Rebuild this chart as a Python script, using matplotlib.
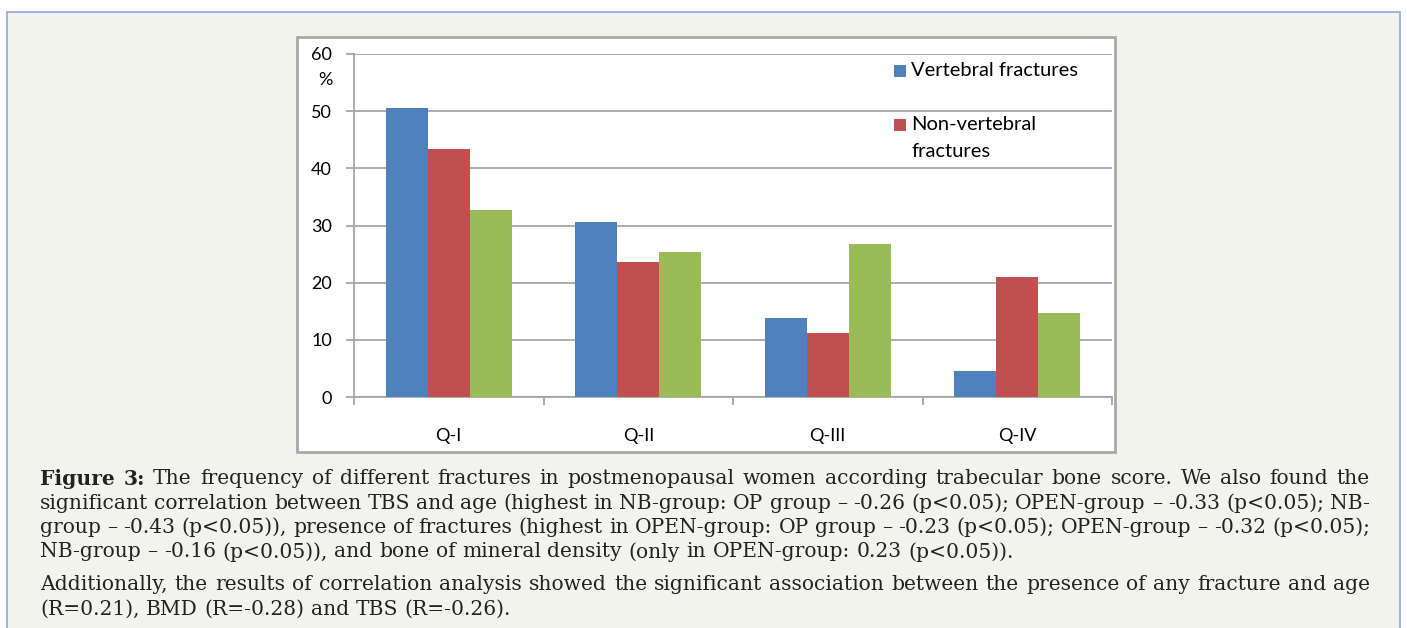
import matplotlib
matplotlib.use("Agg")
import matplotlib.pyplot as plt
import numpy as np
from matplotlib.patches import Rectangle

# data
categories = ["Q-I", "Q-II", "Q-III", "Q-IV"]
vertebral = [50.5, 30.6, 13.8, 4.5]
non_vertebral = [43.3, 23.7, 11.2, 21.0]
third_series = [32.7, 25.3, 26.7, 14.7]
y_ticks = [0, 10, 20, 30, 40, 50, 60]
legend_labels = ["Vertebral fractures", "Non-vertebral\nfractures"]

caption_lines = [
    "The frequency of different fractures in postmenopausal women according trabecular bone score. We also found the",
    "significant correlation between TBS and age (highest in NB-group: OP group \u2013 -0.26 (p<0.05); OPEN-group \u2013 -0.33 (p<0.05); NB-",
    "group \u2013 -0.43 (p<0.05)), presence of fractures (highest in OPEN-group: OP group \u2013 -0.23 (p<0.05); OPEN-group \u2013 -0.32 (p<0.05);",
    "NB-group \u2013 -0.16 (p<0.05)), and bone of mineral density (only in OPEN-group: 0.23 (p<0.05)).",
]
extra_lines = [
    "Additionally, the results of correlation analysis showed the significant association between the presence of any fracture and age",
    "(R=0.21), BMD (R=-0.28) and TBS (R=-0.26).",
]

W, H = 1407, 628
fig = plt.figure(figsize=(W / 100, H / 100), dpi=100)
fig.patch.set_facecolor("white")

def fx(px):
    return px / W

def fy(py):
    return 1 - py / H

# outer page panel
fig.patches.append(Rectangle((fx(7), fy(640)), fx(1400 - 7), (640 - 12) / H,
                             transform=fig.transFigure, facecolor="#f3f3ee",
                             edgecolor="#8fa8d8", linewidth=1.2, zorder=0))
# white chart image with grey frame
fig.patches.append(Rectangle((fx(297), fy(452)), fx(1115 - 297), (452 - 37) / H,
                             transform=fig.transFigure, facecolor="white",
                             edgecolor="#a8a8a8", linewidth=2, zorder=1))

ax = fig.add_axes([fx(354), fy(397), fx(1112 - 354), (397 - 54) / H])
ax.set_facecolor("none")
ax.set_zorder(2)

x = np.arange(len(categories))
w = 0.222
colors = ["#4f81bd", "#c0504d", "#9bbb59"]
b1 = ax.bar(x - w, vertebral, w, color=colors[0], zorder=3)
b2 = ax.bar(x, non_vertebral, w, color=colors[1], zorder=3)
b3 = ax.bar(x + w, third_series, w, color=colors[2], zorder=3)

ax.set_xlim(-0.5, 3.5)
ax.set_ylim(0, 60)
ax.set_yticks(y_ticks)
ax.grid(axis="y", color="#a6a6a6", linewidth=1.3, zorder=0)
ax.set_axisbelow(True)

for s in ["top", "right"]:
    ax.spines[s].set_visible(False)
for s in ["left", "bottom"]:
    ax.spines[s].set_color("#a6a6a6")
    ax.spines[s].set_linewidth(1.3)

ax.set_xticks(x)
ax.set_xticklabels(categories, fontsize=13, family="Lato")
ax.tick_params(axis="x", which="major", length=0, pad=22)
ax.set_xticks(np.arange(-0.5, 4.0, 1.0), minor=True)
ax.tick_params(axis="x", which="minor", length=6, color="#a6a6a6", width=1.3)
ax.tick_params(axis="y", length=6, color="#a6a6a6", width=1.3, pad=10,
               labelsize=13)
for lab in ax.get_yticklabels():
    lab.set_family("Lato")

fig.text(fx(325), fy(80), "%", fontsize=13, family="Lato", ha="center", va="center",
         zorder=5)

# legend drawn by hand: only two entries, marker level with first text line
leg_rows = [71, 125]
for lbl, col, ypx in zip(legend_labels, colors, leg_rows):
    fig.patches.append(Rectangle((fx(894), fy(ypx + 6)), fx(12), 12 / H,
                                 transform=fig.transFigure, facecolor=col,
                                 edgecolor="none", zorder=5))
    fig.text(fx(911), fy(ypx - 9), lbl, fontsize=14.5, family="Lato",
             ha="left", va="top", linespacing=1.68, zorder=5)

# caption, justified like the reference
fig.canvas.draw()
renderer = fig.canvas.get_renderer()
left_px, right_px = 40, 1370
fs = 14.6
serif = "DejaVu Serif"

def text_width(s, weight="normal"):
    t = fig.text(0, 0, s, fontsize=fs, family=serif, weight=weight)
    wd = t.get_window_extent(renderer).width
    t.remove()
    return wd

def draw_line(line, ypx, justify, first_bold=None):
    words = line.split(" ")
    weights = ["normal"] * len(words)
    if first_bold:
        words = first_bold + words
        weights = ["bold"] * len(first_bold) + weights
    widths = [text_width(wd, wt) for wd, wt in zip(words, weights)]
    space = text_width("a b") - text_width("ab")
    if justify and len(words) > 1:
        space = (right_px - left_px - sum(widths)) / (len(words) - 1)
    xpos = left_px
    for wd, wt, wdt in zip(words, weights, widths):
        fig.text(fx(xpos), fy(ypx), wd, fontsize=fs, family=serif, weight=wt,
                 va="center", ha="left", color="#222222")
        xpos += wdt + space

y0 = 479
lh = 24.3
draw_line(caption_lines[0], y0, True, first_bold=["Figure", "3:"])
draw_line(caption_lines[1], y0 + lh, True)
draw_line(caption_lines[2], y0 + 2 * lh, True)
draw_line(caption_lines[3], y0 + 3 * lh, False)
draw_line(extra_lines[0], 585, True)
draw_line(extra_lines[1], 585 + lh, False)

fig.savefig("out.png", dpi=100)
